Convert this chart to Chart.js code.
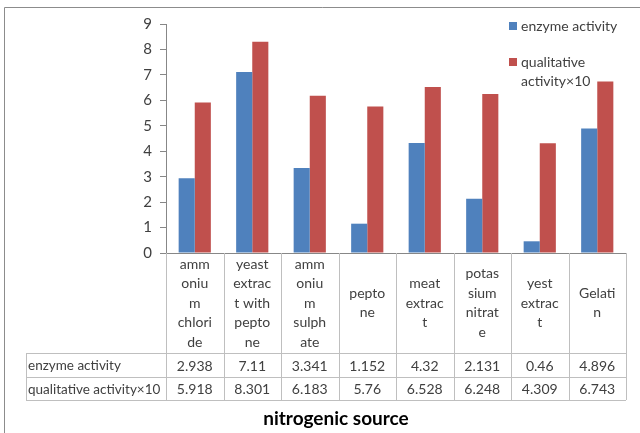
<!DOCTYPE html>
<html>
<head>
<meta charset="utf-8">
<script src="https://cdn.jsdelivr.net/npm/chart.js@4.4.0/dist/chart.umd.min.js"></script>
<style>
  html, body { margin: 0; padding: 0; background: #fff; }
  #wrap { width: 640px; height: 433px; }
</style>
</head>
<body>
<div id="wrap"><canvas id="chart"></canvas></div>
<script>
// ===== Data =====
const categories = [
    ['amm', 'oniu', 'm', 'chlori', 'de'],
    ['yeast', 'extrac', 't with', 'pepto', 'ne'],
    ['amm', 'oniu', 'm', 'sulph', 'ate'],
    ['pepto', 'ne'],
    ['meat', 'extrac', 't'],
    ['potas', 'sium', 'nitrat', 'e'],
    ['yest', 'extrac', 't'],
    ['Gelati', 'n']
];
const enzymeActivity = [2.938, 7.11, 3.341, 1.152, 4.32, 2.131, 0.46, 4.896];
const qualitativeActivity = [5.918, 8.301, 6.183, 5.76, 6.528, 6.248, 4.309, 6.743];
const enzymeLabels = ['2.938', '7.11', '3.341', '1.152', '4.32', '2.131', '0.46', '4.896'];
const qualitativeLabels = ['5.918', '8.301', '6.183', '5.76', '6.528', '6.248', '4.309', '6.743'];
const yTicks = [0, 1, 2, 3, 4, 5, 6, 7, 8, 9];
const axisTitle = 'nitrogenic source';

const FONT = 'Lato';
const BLUE = '#4F81BD';
const RED = '#C0504D';
const LINE = '#BFBFBF';

// ===== Table, legend and frame plugin =====
const tablePlugin = {
    id: 'dataTable',
    beforeDraw(chart) {
        const ctx = chart.ctx;
        ctx.save();
        ctx.strokeStyle = '#8C8C8C';
        ctx.lineWidth = 1;
        ctx.beginPath();
        ctx.moveTo(4.5, 433);
        ctx.lineTo(4.5, 7.5);
        ctx.lineTo(640, 7.5);
        ctx.stroke();
        ctx.restore();
    },
    afterDraw(chart) {
        const ctx = chart.ctx;
        const x = chart.scales.x;
        const area = chart.chartArea;
        const left = area.left, right = area.right, top = area.bottom;
        const row1 = 353, row2 = 377, bottom = 400, tableLeft = 26;
        const step = (right - left) / categories.length;

        ctx.save();
        ctx.lineWidth = 1;
        ctx.strokeStyle = LINE;
        ctx.beginPath();
        // horizontal lines
        [row1, row2, bottom].forEach(y => {
            ctx.moveTo(tableLeft, y + 0.5);
            ctx.lineTo(right, y + 0.5);
        });
        // vertical lines
        for (let i = 1; i <= categories.length; i++) {
            const vx = Math.round(left + i * step) + 0.5;
            ctx.moveTo(vx, top);
            ctx.lineTo(vx, bottom);
        }
        ctx.moveTo(tableLeft + 0.5, row1);
        ctx.lineTo(tableLeft + 0.5, bottom);
        ctx.moveTo(Math.round(left) + 0.5, top);
        ctx.lineTo(Math.round(left) + 0.5, bottom);
        ctx.stroke();

        // category labels, vertically centred
        ctx.fillStyle = '#404040';
        ctx.font = '14px ' + FONT;
        ctx.textAlign = 'center';
        ctx.textBaseline = 'middle';
        const lh = 19.5;
        const mid = (top + row1) / 2;
        categories.forEach((lines, i) => {
            const cx = x.getPixelForValue(i);
            const y0 = mid - (lines.length - 1) * lh / 2;
            lines.forEach((t, j) => ctx.fillText(t, cx, y0 + j * lh));
        });

        // data rows
        const rows = [[chart.data.datasets[0].label, enzymeLabels, row1, row2],
                      [chart.data.datasets[1].label, qualitativeLabels, row2, bottom]];
        rows.forEach(([name, vals, y1, y2]) => {
            const cy = (y1 + y2) / 2 + 1;
            ctx.textAlign = 'left';
            ctx.font = '13.5px ' + FONT;
            ctx.fillText(name, tableLeft + 2, cy);
            ctx.font = '14px ' + FONT;
            ctx.textAlign = 'center';
            vals.forEach((v, i) => ctx.fillText(v, x.getPixelForValue(i), cy));
        });

        // axis title
        ctx.fillStyle = '#000';
        ctx.font = 'bold 19px ' + FONT;
        ctx.fillText(axisTitle, (left + right) / 2 - 60, 419);

        // legend
        const ds = chart.data.datasets;
        ctx.font = '14px ' + FONT;
        ctx.textAlign = 'left';
        ctx.fillStyle = ds[0].backgroundColor;
        ctx.fillRect(509, 22, 8, 8);
        ctx.fillStyle = ds[1].backgroundColor;
        ctx.fillRect(509, 58, 8, 8);
        ctx.fillStyle = '#404040';
        ctx.fillText(ds[0].label, 521, 26);
        const parts = ds[1].label.split(' ');
        ctx.fillText(parts[0], 521, 62);
        ctx.fillText(parts[1], 521, 81);
        ctx.restore();
    }
};

// ===== Chart =====
new Chart(document.getElementById('chart'), {
    type: 'bar',
    data: {
        labels: categories.map(c => c.join('')),
        datasets: [{
            label: 'enzyme activity',
            data: enzymeActivity,
            backgroundColor: BLUE,
            categoryPercentage: 0.56,
            barPercentage: 1.0
        }, {
            label: 'qualitative activity×10',
            data: qualitativeActivity,
            backgroundColor: RED,
            categoryPercentage: 0.56,
            barPercentage: 1.0
        }]
    },
    options: {
        responsive: true,
        maintainAspectRatio: false,
        animation: false,
        devicePixelRatio: 1,
        layout: { padding: { top: 24, right: 14, left: 0, bottom: 0 } },
        plugins: {
            legend: { display: false },
            title: { display: false },
            tooltip: { enabled: false }
        },
        scales: {
            x: {
                ticks: { display: false },
                grid: { display: false },
                border: { display: true, color: '#878787' },
                afterFit: s => { s.height = 180; }
            },
            y: {
                min: 0,
                max: 9,
                afterBuildTicks: s => { s.ticks = yTicks.map(v => ({ value: v })); },
                ticks: { color: '#404040', font: { family: FONT, size: 15 }, padding: 8 },
                grid: { drawOnChartArea: false, tickLength: 6, color: '#878787' },
                border: { color: '#878787' },
                afterFit: s => { s.width = 166; }
            }
        }
    },
    plugins: [tablePlugin]
});
</script>
</body>
</html>
